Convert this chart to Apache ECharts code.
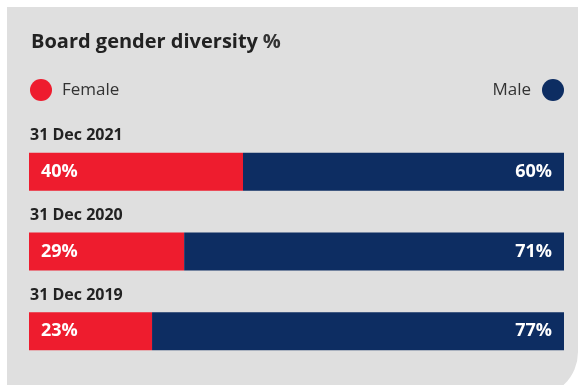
<html>
<head>
    <meta charset="UTF-8">
    <title>Board gender diversity</title>
    <script src="https://cdn.jsdelivr.net/npm/echarts@6/dist/echarts.min.js"></script>
    <style>
        body { margin: 0; background: #ffffff; }
    </style>
</head>
<body>
    <div id="container" style="width: 579px;height:385px;"></div>
<script>
    // data
    var dates = ['31 Dec 2021', '31 Dec 2020', '31 Dec 2019'];
    var female = [40, 29, 23];
    var male = [60, 71, 77];

    var RED = '#ee1c2e';
    var NAVY = '#0d2d62';
    var FONT = 'Open Sans';

    var mycharts = echarts.init(document.getElementById('container'));

    var option = {
        animation: false,
        textStyle: { fontFamily: FONT },
        graphic: [{
            type: 'rect',
            z: -10,
            silent: true,
            shape: { x: 7, y: 7, width: 571, height: 390, r: [0, 0, 45, 0] },
            style: { fill: '#dfdfdf' }
        }],
        title: {
            left: 26,
            top: 27,
            text: '{b|Board gender diversity} {r|%}',
            textStyle: {
                rich: {
                    b: { fontFamily: FONT, fontSize: 20, fontWeight: 'bold', color: '#222222' },
                    r: { fontFamily: FONT, fontSize: 20, color: '#333333' }
                }
            }
        },
        legend: [{
            left: 30,
            top: 79,
            padding: 0,
            data: ['Female'],
            icon: 'circle',
            itemWidth: 22,
            itemHeight: 22,
            textStyle: { fontSize: 17, color: '#333333', fontFamily: FONT, padding: [0, 0, 0, 5] }
        }, {
            right: 15,
            top: 79,
            padding: 0,
            align: 'right',
            data: ['Male'],
            icon: 'circle',
            itemWidth: 22,
            itemHeight: 22,
            textStyle: { fontSize: 17, color: '#333333', fontFamily: FONT, padding: [0, 6, 0, 0] }
        }],
        grid: { left: 29, right: 15, top: 132, bottom: 14 },
        xAxis: {
            type: 'value',
            min: 0,
            max: 100,
            show: false
        },
        yAxis: {
            type: 'category',
            inverse: true,
            data: dates,
            axisLine: { show: false },
            axisTick: { show: false },
            axisLabel: {
                inside: true,
                margin: 1,
                align: 'left',
                verticalAlign: 'bottom',
                padding: [0, 0, 28, 0],
                fontSize: 16,
                fontWeight: 'bold',
                color: '#222222',
                fontFamily: FONT
            }
        },
        series: [{
            name: 'Female',
            type: 'bar',
            stack: 'total',
            barWidth: 38,
            itemStyle: { color: RED },
            label: {
                show: true,
                position: 'insideLeft',
                distance: 12,
                formatter: '{c}%',
                fontSize: 18,
                fontWeight: 'bold',
                color: '#ffffff',
                fontFamily: FONT
            },
            data: female
        }, {
            name: 'Male',
            type: 'bar',
            stack: 'total',
            barWidth: 38,
            itemStyle: { color: NAVY },
            label: {
                show: true,
                position: 'insideRight',
                distance: 12,
                formatter: '{c}%',
                fontSize: 18,
                fontWeight: 'bold',
                color: '#ffffff',
                fontFamily: FONT
            },
            data: male
        }]
    };

    mycharts.setOption(option);
</script>
</body>
</html>
